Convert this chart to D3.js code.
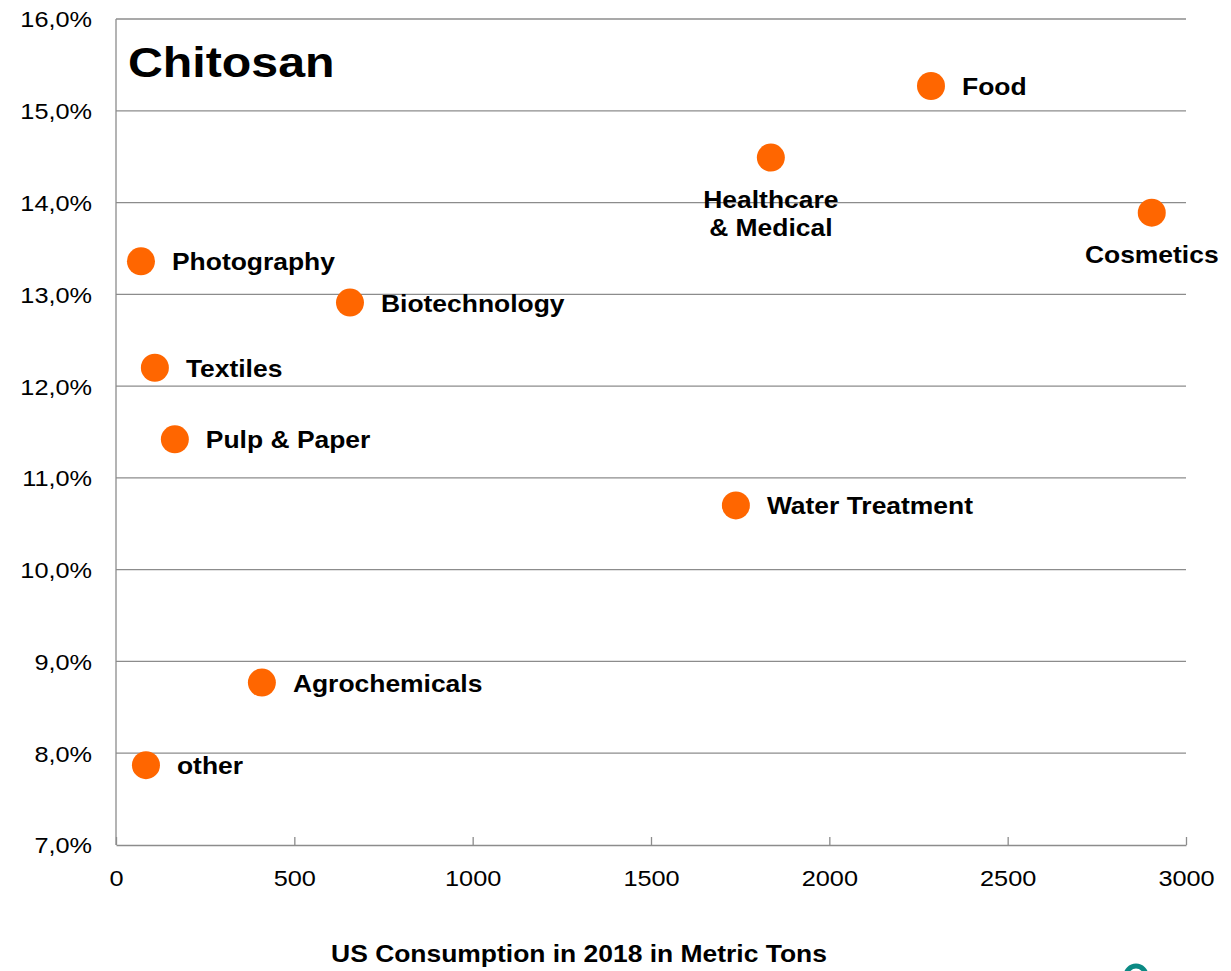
<!DOCTYPE html>
<html>
<head>
<meta charset="utf-8">
<script src="https://cdn.jsdelivr.net/npm/d3@7"></script>
<style>
  body { margin: 0; background: #fff; }
  text { font-family: "Liberation Sans", Arial, sans-serif; }
</style>
</head>
<body>
<div id="chart"></div>
<script>
// data
const segments = ["Food", "Healthcare\n& Medical", "Cosmetics", "Photography", "Biotechnology",
  "Textiles", "Pulp & Paper", "Water Treatment", "Agrochemicals", "other"];
const consumption = [2285, 1836, 2904, 70, 656, 109, 165, 1738, 409, 84];   // metric tons
const growth = [15.27, 14.49, 13.89, 13.36, 12.91, 12.20, 11.42, 10.70, 8.77, 7.87]; // percent
const labelPos = ["right", "below", "below", "right", "right", "right", "right", "right", "right", "right"];
const xTicks = [0, 500, 1000, 1500, 2000, 2500, 3000];
const yTicks = [7, 8, 9, 10, 11, 12, 13, 14, 15, 16];

const W = 1231, H = 971;
const margin = {top: 19, right: 45, bottom: 126, left: 116};
const stretch = 1.15; // the source text is a bit wider than the font

const svg = d3.select("#chart")
  .append("svg")
  .attr("width", W)
  .attr("height", H);

const x = d3.scaleLinear().domain([0, 3000]).range([margin.left, W - margin.right]);
const y = d3.scaleLinear().domain([7, 16]).range([H - margin.bottom, margin.top]);

const grey = "#8c8c8c";

// horizontal gridlines
svg.append("g")
  .selectAll("line")
  .data(yTicks.slice(1))
  .join("line")
  .attr("x1", x(0)).attr("x2", x(3000))
  .attr("y1", d => y(d)).attr("y2", d => y(d))
  .attr("stroke", grey)
  .attr("stroke-width", 1.3);

// y axis (labels only, line drawn below)
const fmtY = d => d3.format(".1f")(d).replace(".", ",") + "%";
const yAxis = svg.append("g")
  .attr("transform", `translate(${x(0)},0)`)
  .call(d3.axisLeft(y).tickValues(yTicks).tickFormat(fmtY).tickSize(0));
yAxis.select(".domain").remove();
yAxis.selectAll("text")
  .attr("x", -24 / stretch)
  .attr("dy", "0.36em")
  .attr("transform", `scale(${stretch},1)`)
  .style("font-size", "22px")
  .attr("fill", "#000");

svg.append("line")
  .attr("x1", x(0)).attr("x2", x(0))
  .attr("y1", y(16)).attr("y2", y(7))
  .attr("stroke", grey).attr("stroke-width", 1.3);

// x axis with inward ticks
const xAxis = svg.append("g")
  .attr("transform", `translate(0,${y(7)})`)
  .call(d3.axisBottom(x).tickValues(xTicks).tickFormat(d3.format("d"))
    .tickSizeInner(-8).tickSizeOuter(0).tickPadding(25));
xAxis.select(".domain").attr("stroke", grey).attr("stroke-width", 1.3);
xAxis.selectAll(".tick line").attr("stroke", grey).attr("stroke-width", 1.3);
xAxis.selectAll("text")
  .attr("transform", `scale(${stretch},1)`)
  .style("font-size", "22px")
  .attr("fill", "#000");

// title
svg.append("text")
  .attr("transform", `translate(128,77) scale(${stretch},1)`)
  .style("font-size", "42px")
  .style("font-weight", "bold")
  .text("Chitosan");

// x axis title
svg.append("text")
  .attr("transform", `translate(${(329 + 829) / 2},962) scale(${stretch},1)`)
  .attr("text-anchor", "middle")
  .style("font-size", "23px")
  .style("font-weight", "bold")
  .text("US Consumption in 2018 in Metric Tons");

// points
const pts = segments.map((s, i) => ({name: s, x: consumption[i], y: growth[i], pos: labelPos[i]}));

svg.append("g")
  .selectAll("circle")
  .data(pts)
  .join("circle")
  .attr("cx", d => x(d.x))
  .attr("cy", d => y(d.y))
  .attr("r", 14)
  .attr("fill", "#ff6600");

// labels
const lab = svg.append("g")
  .selectAll("text")
  .data(pts)
  .join("text")
  .attr("transform", d => d.pos === "right"
    ? `translate(${x(d.x) + 31},${y(d.y) + 9}) scale(${stretch},1)`
    : `translate(${x(d.x)},${y(d.y) + 50}) scale(${stretch},1)`)
  .attr("text-anchor", d => d.pos === "right" ? "start" : "middle")
  .style("font-size", "23px")
  .style("font-weight", "bold");

lab.selectAll("tspan")
  .data(d => d.name.split("\n"))
  .join("tspan")
  .attr("x", 0)
  .attr("dy", (d, i) => i === 0 ? 0 : 28)
  .text(d => d);

// bit of the logo cut off at the bottom edge
svg.append("circle")
  .attr("cx", 1136).attr("cy", 976)
  .attr("r", 10)
  .attr("fill", "none")
  .attr("stroke", "#0b8a84")
  .attr("stroke-width", 5);
</script>
</body>
</html>
